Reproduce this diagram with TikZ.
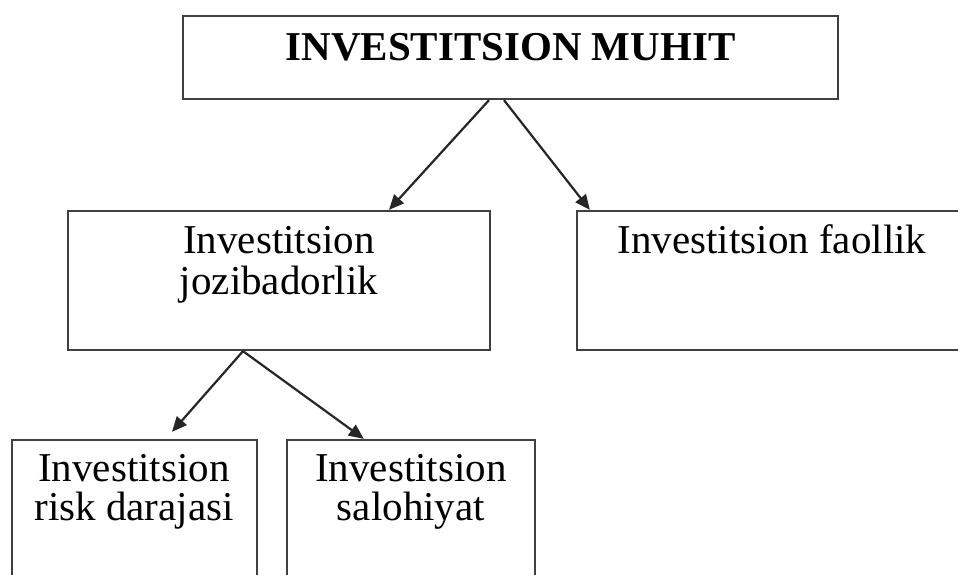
\documentclass[tikz,border=0pt]{standalone}
\usepackage{fontspec}
\setmainfont{Liberation Serif}
\usetikzlibrary{arrows.meta,calc}
\begin{document}
\begin{tikzpicture}[x=1pt,y=-1pt,
  box/.style={draw=black!75, line width=2.3pt, inner sep=0pt, fill=none},
  txt/.style={inner sep=0pt, anchor=base, font=\fontsize{41}{41}\selectfont, text=black},
  arr/.style={draw=black!85, line width=2.2pt, -{Triangle[length=15pt,width=13pt]}}]
\clip (0,0) rectangle (958,574);
\fill[white] (0,0) rectangle (958,574);
% boxes
\node[box, minimum width=655pt, minimum height=83pt] (top) at (510.5,57.5) {};
\node[box, minimum width=422pt, minimum height=139pt] (midL) at (279,280.5) {};
\node[box, minimum width=390pt, minimum height=139pt] (midR) at (772,280.5) {};
\node[box, minimum width=245pt, minimum height=180pt] (botL) at (134.5,530) {};
\node[box, minimum width=248pt, minimum height=180pt] (botM) at (411,530) {};
% texts
\node[txt, font=\fontsize{41}{41}\selectfont\bfseries] (tTop) at (510.5,60) {INVESTITSION MUHIT};
\node[txt] (tMidLa) at (279,253) {Investitsion};
\node[txt] (tMidLb) at (279,294) {jozibadorlik};
\node[txt] (tMidR) at (772,253) {Investitsion faollik};
\node[txt] (tBotLa) at (134,481) {Investitsion};
\node[txt] (tBotLb) at (134,520) {risk darajasi};
\node[txt] (tBotMa) at (411,481) {Investitsion};
\node[txt] (tBotMb) at (411,520) {salohiyat};
% connectors
\draw[arr] ([xshift=-21.5pt]top.south) -- ([xshift=110pt]midL.north);
\draw[arr] ([xshift=-6.5pt]top.south) -- ([xshift=14pt]midR.north west);
\draw[arr] ([xshift=-36pt]midL.south) -- ([xshift=37.5pt,yshift=7pt]botL.north);
\draw[arr] ([xshift=-36pt]midL.south) -- ([xshift=78pt]botM.north west);
\end{tikzpicture}
\end{document}
